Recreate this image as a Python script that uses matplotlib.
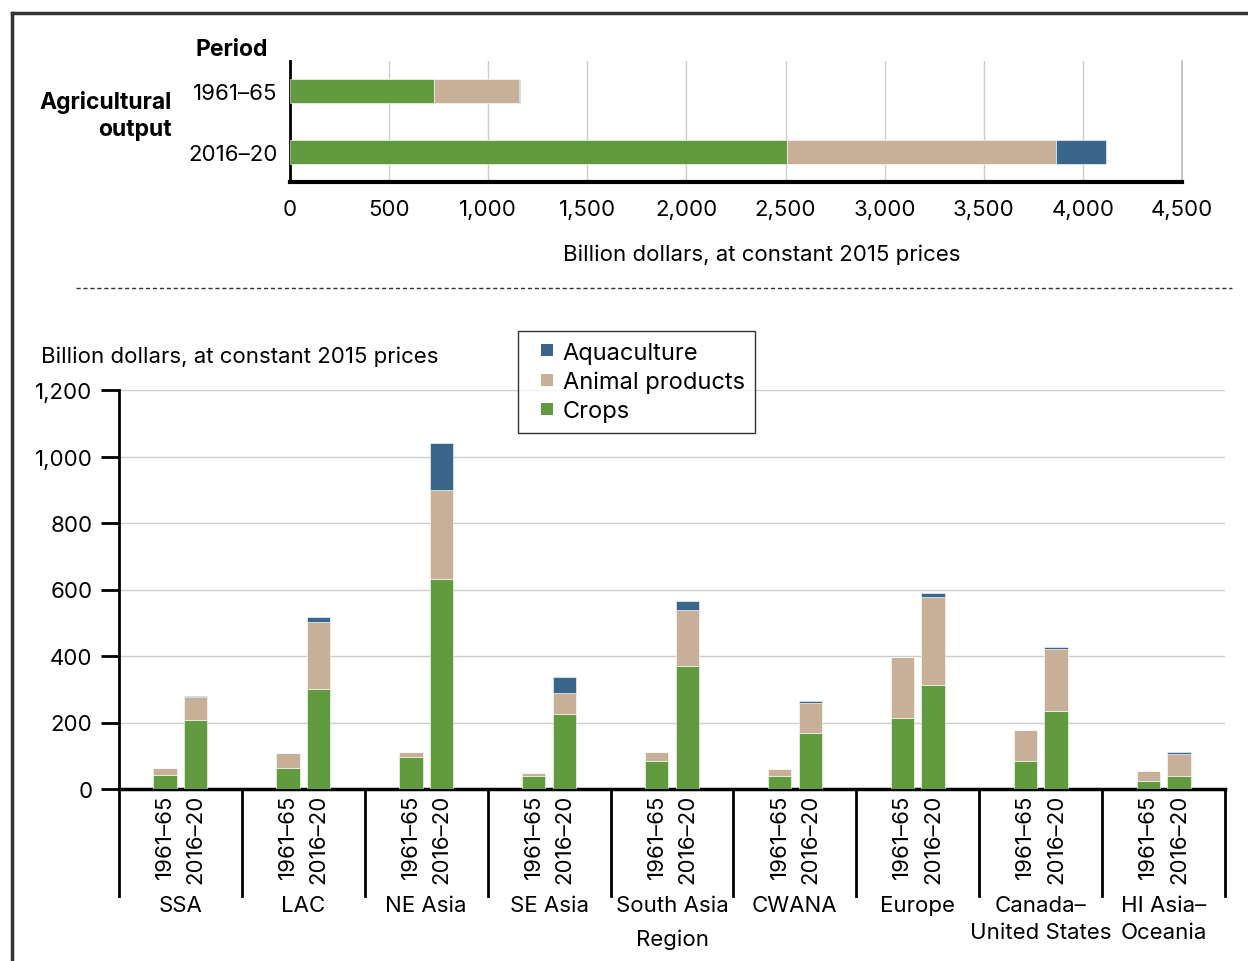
import matplotlib
matplotlib.use("Agg")
import matplotlib.pyplot as plt
from matplotlib.lines import Line2D
import matplotlib.transforms as mtransforms
import numpy as np

plt.rcParams['font.family'] = ['Inter', 'DejaVu Sans']

# --- data -------------------------------------------------------------------
periods = ["1961\u201365", "2016\u201320"]
series = ["Crops", "Animal products", "Aquaculture"]

# world totals (top panel)
world_crops = [724, 2505]
world_animal = [430, 1360]
world_aqua = [4, 250]

# by region (bottom panel)
regions = ["SSA", "LAC", "NE Asia", "SE Asia", "South Asia", "CWANA",
           "Europe", "Canada\u2013\nUnited States", "HI Asia\u2013\nOceania"]
crops_6165 = [42, 63, 96, 39, 85, 40, 213, 84, 25]
animal_6165 = [20, 45, 16, 9, 25, 21, 185, 94, 28]
aqua_6165 = [1, 0, 0, 1, 0, 0, 0, 0, 0]
crops_1620 = [209, 300, 631, 227, 369, 167, 312, 236, 40]
animal_1620 = [67, 201, 267, 61, 169, 91, 264, 185, 64]
aqua_1620 = [3, 15, 142, 48, 27, 7, 12, 5, 7]

C_CROP = "#619a3f"
C_ANIM = "#c8b098"
C_AQUA = "#3b668c"
GRID = "#cccccc"
W, H = 1248, 962
FS = 16

fig = plt.figure(figsize=(12.48, 9.62), dpi=100)

def fx(px):
    return px / W

def fy(py):
    return 1 - py / H

# --- outer frame ------------------------------------------------------------
fig.add_artist(Line2D([fx(12), 1.0], [fy(14), fy(14)], color="#333333", lw=2.5))
fig.add_artist(Line2D([fx(12), fx(12)], [fy(14), 0.0], color="#333333", lw=2.5))

# --- top panel --------------------------------------------------------------
ax1 = fig.add_axes([fx(290), fy(183), fx(1182) - fx(290), (183 - 62) / H])
y = np.arange(len(periods))
kw = dict(height=0.4, edgecolor="white", linewidth=0.4, zorder=3)
ax1.barh(y, world_crops, color=C_CROP, **kw)
ax1.barh(y, world_animal, left=world_crops, color=C_ANIM, **kw)
ax1.barh(y, world_aqua, left=np.add(world_crops, world_animal), color=C_AQUA, **kw)
ax1.set_ylim(1.5, -0.5)
ax1.set_xlim(0, 4500)
ax1.set_xticks(np.arange(0, 4501, 500))
ax1.set_xticklabels([f"{v:,}" for v in range(0, 4501, 500)])
ax1.set_yticks(y)
ax1.set_yticklabels(periods)
ax1.tick_params(axis="both", length=0, labelsize=FS)
ax1.tick_params(axis="x", pad=12)
ax1.tick_params(axis="y", pad=9)
ax1.grid(axis="x", color=GRID, lw=1, zorder=0)
ax1.axvline(4500, color="#bbbbbb", lw=1.2, zorder=0, clip_on=False)
for s in ["top", "right"]:
    ax1.spines[s].set_visible(False)
ax1.spines["left"].set_linewidth(2)
ax1.spines["bottom"].set_linewidth(3)
ax1.set_xlabel("Billion dollars, at constant 2015 prices", fontsize=FS)
ax1.xaxis.set_label_coords((762 - 290) / 892, -(255 - 183) / 121)
ax1.xaxis.label.set_va("center")
fig.text(fx(232), fy(50), "Period", fontsize=16.5, fontweight="bold", ha="center", va="center")
fig.text(fx(172), fy(116), "Agricultural\noutput", fontsize=16.5, fontweight="bold",
         ha="right", va="center", linespacing=1.35)

# dashed separator
fig.add_artist(Line2D([fx(76), fx(1232)], [fy(289), fy(289)], color="#333333",
                      lw=1, ls=(0, (3, 2))))

# --- bottom panel -----------------------------------------------------------
ax2 = fig.add_axes([fx(119), fy(790), fx(1225) - fx(119), (790 - 391) / H])
x = np.arange(len(regions))
off = 0.125
bw = 0.19
kw = dict(width=bw, edgecolor="white", linewidth=0.4, zorder=3)
for xs, c, a, q in [(x - off, crops_6165, animal_6165, aqua_6165),
                    (x + off, crops_1620, animal_1620, aqua_1620)]:
    ax2.bar(xs, c, color=C_CROP, **kw)
    ax2.bar(xs, a, bottom=c, color=C_ANIM, **kw)
    ax2.bar(xs, q, bottom=np.add(c, a), color=C_AQUA, **kw)

ax2.set_xlim(-0.5, len(regions) - 0.5)
ax2.set_ylim(0, 1200)
ax2.set_yticks(np.arange(0, 1201, 200))
ax2.set_yticklabels([f"{v:,}" for v in range(0, 1201, 200)])
ax2.tick_params(axis="y", length=13, width=2, labelsize=FS, pad=6)
ax2.set_xticks([])
ax2.grid(axis="y", color=GRID, lw=1, zorder=0)
for s in ["top", "right"]:
    ax2.spines[s].set_visible(False)
ax2.spines["left"].set_linewidth(2)
ax2.spines["bottom"].set_linewidth(2.5)

trans = mtransforms.blended_transform_factory(ax2.transData, ax2.transAxes)
sep_y = -(897 - 790) / 399
for b in np.arange(-0.5, len(regions), 1.0):
    ax2.plot([b, b], [0, sep_y], color="black", lw=2, transform=trans, clip_on=False)
for i, r in enumerate(regions):
    for j, p in enumerate(periods):
        ax2.text(i + (off if j else -off), -5 / 399, p, rotation=90, ha="center",
                 va="top", fontsize=FS, transform=trans)
    ax2.text(i, -(896 - 790) / 399, r, ha="center", va="top", fontsize=FS,
             linespacing=1.45, transform=trans)
fig.text(fx(672), fy(940), "Region", fontsize=FS, ha="center", va="center")
fig.text(fx(41), fy(357), "Billion dollars, at constant 2015 prices", fontsize=FS,
         ha="left", va="center")

handles = [Line2D([], [], ls="none", marker="s", ms=9, mew=0, color=C_AQUA, label="Aquaculture"),
           Line2D([], [], ls="none", marker="s", ms=9, mew=0, color=C_ANIM, label="Animal products"),
           Line2D([], [], ls="none", marker="s", ms=9, mew=0, color=C_CROP, label="Crops")]
leg = fig.legend(handles=handles, loc="upper left", bbox_to_anchor=(fx(518), fy(332)),
                 fontsize=17, frameon=True, fancybox=False, edgecolor="black",
                 handlelength=1.55, handletextpad=-0.1,
                 borderpad=0.45, labelspacing=0.3, borderaxespad=0)
leg.get_frame().set_linewidth(1)

fig.savefig("out.png", dpi=100)
